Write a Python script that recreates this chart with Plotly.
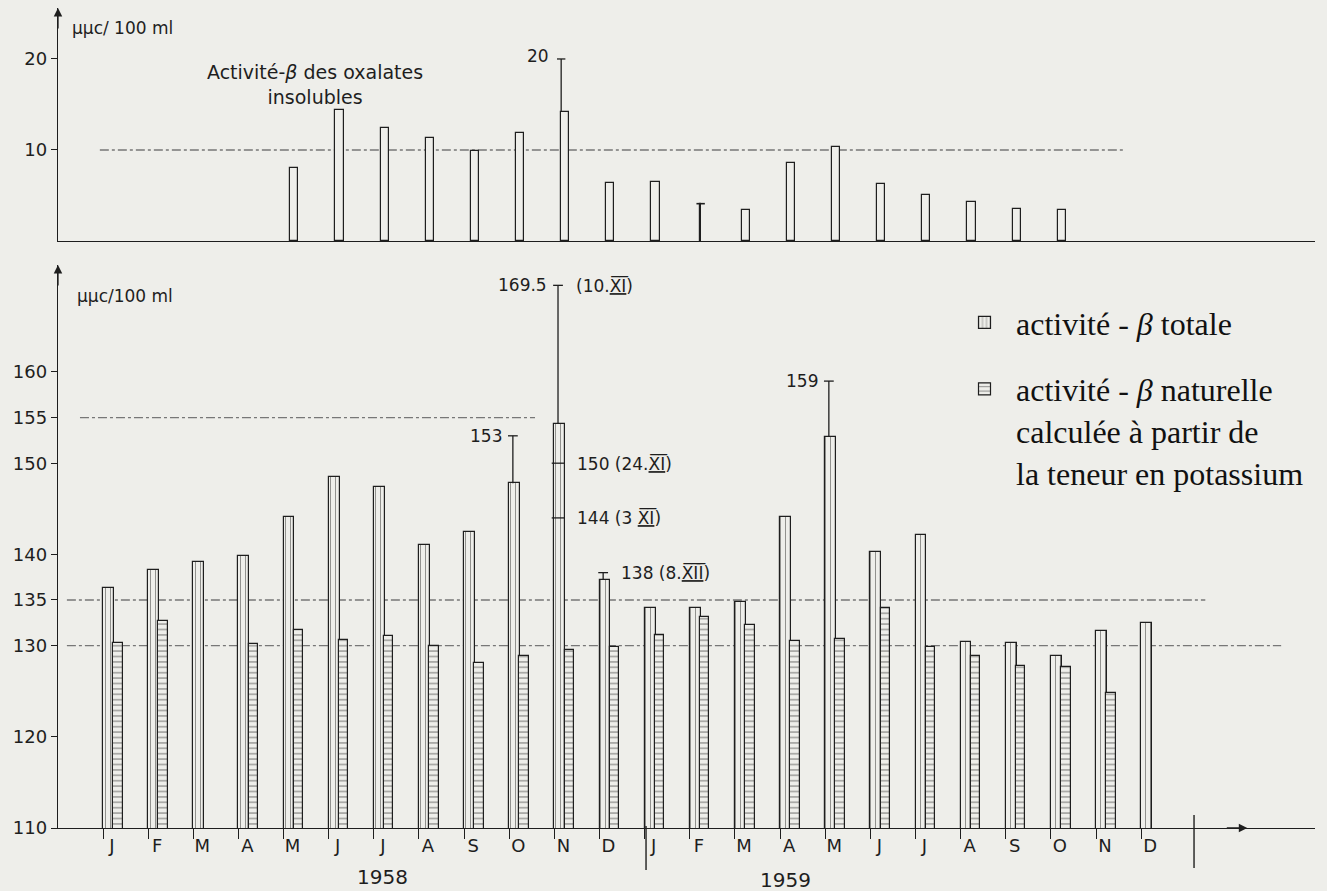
import plotly.graph_objects as go

W, H = 1327, 891
BG = "#eeeeea"
INK = "#1e1e1e"
HAND = "DejaVu Sans"

# ---------------- data ----------------
month_labels = ["J", "F", "M", "A", "M", "J", "J", "A", "S", "O", "N", "D",
                "J", "F", "M", "A", "M", "J", "J", "A", "S", "O", "N", "D"]
years = ["1958", "1959"]

# total beta activity (µµc/100 ml), monthly, 1958-1959
total = [136.3, 138.3, 139.2, 139.8, 144.1, 148.5, 147.4, 141.0, 142.5, 147.8, 154.3, 137.2,
         134.1, 134.1, 134.8, 144.1, 152.9, 140.3, 142.1, 130.4, 130.3, 128.9, 131.6, 132.5]
# natural beta activity computed from potassium content
natural = [130.3, 132.7, None, 130.2, 131.7, 130.6, 131.1, 130.0, 128.1, 128.9, 129.5, 129.9,
           131.2, 133.1, 132.3, 130.5, 130.7, 134.1, 129.8, 128.9, 127.8, 127.7, 124.8, None]
# beta activity of insoluble oxalates
oxalates = [None, None, None, None, 8.0, 14.4, 12.4, 11.3, 9.9, 11.9, 14.2, 6.4,
            6.5, 4.1, 3.4, 8.6, 10.3, 6.3, 5.1, 4.3, 3.5, 3.4, None, None]

# maxima (whiskers) for some months
whisk_month = [9, 10, 11, 16]
whisk_max = [153, 169.5, 138, 159]
whisk_text_left = ["153", "169.5", "", "159"]
whisk_text_right = ["", "(10.<u>X\u0305I\u0305</u>)", "138 (8.<u>X\u0305I\u0305I\u0305</u>)", ""]
# intermediate values in November 1958
nov_vals = [150, 144]
nov_text = ["150 (24.<u>X\u0305I\u0305</u>)", "144 (3 <u>X\u0305I\u0305</u>)"]
ox_whisk_month = [10]
ox_whisk_max = [20]

ref_bottom = [155, 135, 130]
ref_bottom_span = [(-0.51, 9.57), (-0.8, 24.42), (-0.8, 26.1)]
ref_top = [10]
ref_top_span = [(-0.07, 22.65)]

bottom_ticks = [110, 120, 130, 135, 140, 150, 155, 160]
top_ticks = [10, 20]

n = len(total)
idx = list(range(n))

X_RANGE = [-0.997, 26.85]
XDOM = [58 / W, 1315 / W]

fig = go.Figure()

# total activity bars
fig.add_trace(go.Bar(
    x=[i + 0.12 for i in idx], y=total, width=0.24,
    name="activité - <i>β</i> totale", legendgroup="tot",
    marker=dict(color=BG, line=dict(color=INK, width=1.2),
                pattern=dict(shape="|", size=5, solidity=0.18, fgcolor=INK, bgcolor=BG)),
    xaxis="x", yaxis="y", hoverinfo="skip"))

# natural activity bars
fig.add_trace(go.Bar(
    x=[i + 0.33 for i in idx], y=natural, width=0.21,
    name="activité - <i>β</i> naturelle<br>calculée à partir de<br>la teneur en potassium",
    legendgroup="nat",
    marker=dict(color=BG, line=dict(color=INK, width=1.2),
                pattern=dict(shape="-", size=5.4, solidity=0.22, fgcolor=INK, bgcolor=BG)),
    xaxis="x", yaxis="y", hoverinfo="skip"))

# whiskers (bottom)
wx, wy = [], []
for m, top in zip(whisk_month, whisk_max):
    wx += [m + 0.08, m + 0.08, None]
    wy += [total[m], top, None]
fig.add_trace(go.Scatter(x=wx, y=wy, mode="lines", line=dict(color=INK, width=1.3),
                         showlegend=False, hoverinfo="skip", xaxis="x", yaxis="y"))
fig.add_trace(go.Scatter(x=[m + 0.08 for m in whisk_month], y=whisk_max, mode="markers",
                         marker=dict(symbol="line-ew", size=7, line=dict(color=INK, width=1.3)),
                         showlegend=False, hoverinfo="skip", xaxis="x", yaxis="y"))
fig.add_trace(go.Scatter(x=[10 + 0.08] * len(nov_vals), y=nov_vals, mode="markers",
                         marker=dict(symbol="line-ew", size=9, line=dict(color=INK, width=1.3)),
                         showlegend=False, hoverinfo="skip", xaxis="x", yaxis="y"))

# oxalates bars (top)
ox_width = [0.03 if i == 13 else 0.18 for i in idx]
fig.add_trace(go.Bar(
    x=[i + 0.24 for i in idx], y=oxalates, width=ox_width,
    marker=dict(color=BG, line=dict(color=INK, width=1.2)),
    showlegend=False, xaxis="x2", yaxis="y2", hoverinfo="skip"))
fig.add_trace(go.Scatter(x=[13 + 0.24], y=[oxalates[13]], mode="markers",
                         marker=dict(symbol="line-ew", size=6, line=dict(color=INK, width=1.6)),
                         showlegend=False, hoverinfo="skip", xaxis="x2", yaxis="y2"))
ox_wx, ox_wy = [], []
for m, top in zip(ox_whisk_month, ox_whisk_max):
    ox_wx += [m + 0.15, m + 0.15, None]
    ox_wy += [oxalates[m], top, None]
fig.add_trace(go.Scatter(x=ox_wx, y=ox_wy, mode="lines", line=dict(color=INK, width=1.3),
                         showlegend=False, hoverinfo="skip", xaxis="x2", yaxis="y2"))
fig.add_trace(go.Scatter(x=[m + 0.15 for m in ox_whisk_month], y=ox_whisk_max, mode="markers",
                         marker=dict(symbol="line-ew", size=6, line=dict(color=INK, width=1.3)),
                         showlegend=False, hoverinfo="skip", xaxis="x2", yaxis="y2"))

# reference lines
shapes = []
for lv, (a, b) in zip(ref_bottom, ref_bottom_span):
    shapes.append(dict(type="line", xref="x", yref="y", x0=a, x1=b, y0=lv, y1=lv, layer="below",
                       line=dict(color="#777", width=1.3, dash="dashdot")))
for lv, (a, b) in zip(ref_top, ref_top_span):
    shapes.append(dict(type="line", xref="x2", yref="y2", x0=a, x1=b, y0=lv, y1=lv, layer="below",
                       line=dict(color="#777", width=1.3, dash="dashdot")))
# year separators
for xs, y0, y1 in [(12.03, 1 - 870 / H, 1 - 826 / H), (24.17, 1 - 868 / H, 1 - 815 / H)]:
    shapes.append(dict(type="line", xref="x", yref="paper", x0=xs, x1=xs, y0=y0, y1=y1,
                       line=dict(color=INK, width=1.4)))

hand = dict(family=HAND, size=17, color=INK)
ann = []
# whisker labels
for m, top, tl, tr in zip(whisk_month, whisk_max, whisk_text_left, whisk_text_right):
    if tl:
        ann.append(dict(x=m + 0.08, y=top, xref="x", yref="y", text=tl, showarrow=False,
                        xanchor="right", xshift=-9, font=hand))
    if tr:
        ann.append(dict(x=m + 0.08, y=top, xref="x", yref="y", text=tr, showarrow=False,
                        xanchor="left", xshift=16, font=hand))
for v, t in zip(nov_vals, nov_text):
    ann.append(dict(x=10 + 0.08, y=v, xref="x", yref="y", text=t, showarrow=False,
                    xanchor="left", xshift=17, font=hand))
for m, top in zip(ox_whisk_month, ox_whisk_max):
    ann.append(dict(x=m + 0.15, y=top, xref="x2", yref="y2", text=str(top), showarrow=False,
                    xanchor="right", xshift=-10, yshift=3, font=hand))
# titles
ann.append(dict(x=4.7, y=17.2, xref="x2", yref="y2",
                text="Activité-<i>β</i> des oxalates<br>insolubles", showarrow=False,
                font=dict(family=HAND, size=19, color=INK)))
ann.append(dict(x=70 / W, y=1 - 28 / H, xref="paper", yref="paper", text="μμc/ 100 ml",
                showarrow=False, xanchor="left", yanchor="middle",
                font=dict(family=HAND, size=17, color=INK)))
ann.append(dict(x=75 / W, y=1 - 296 / H, xref="paper", yref="paper", text="μμc/100 ml",
                showarrow=False, xanchor="left", yanchor="middle",
                font=dict(family=HAND, size=17, color=INK)))
# years
for yr, xc, yp in zip(years, [6.2, 15.13], [877, 880]):
    ann.append(dict(x=xc, y=1 - yp / H, xref="x", yref="paper", text=yr, showarrow=False,
                    yanchor="middle", font=dict(family=HAND, size=20, color=INK)))
# axis arrows
ann.append(dict(x=X_RANGE[0], y=171.73, xref="x", yref="y", ax=0, ay=22, text="", showarrow=True,
                arrowhead=2, arrowsize=1.3, arrowwidth=1.3, arrowcolor=INK))
ann.append(dict(x=X_RANGE[0], y=25.6, xref="x2", yref="y2", ax=0, ay=22, text="", showarrow=True,
                arrowhead=2, arrowsize=1.3, arrowwidth=1.3, arrowcolor=INK))
ann.append(dict(x=25.35, y=110, xref="x", yref="y", ax=-22, ay=0, text="", showarrow=True,
                arrowhead=2, arrowsize=1.3, arrowwidth=1.3, arrowcolor=INK))

axis_common = dict(showgrid=False, zeroline=False, showline=True, linecolor=INK, linewidth=1.4,
                   tickcolor=INK, tickwidth=1.3, tickfont=dict(family=HAND, size=18, color=INK))

fig.update_layout(
    width=W, height=H, autosize=False,
    margin=dict(l=0, r=0, t=0, b=0),
    paper_bgcolor=BG, plot_bgcolor=BG,
    barmode="overlay", bargap=0,
    xaxis=dict(domain=XDOM, range=X_RANGE, anchor="y", tickmode="array", tickvals=idx,
               ticktext=month_labels, ticks="outside", ticklen=10, ticklabelshift=9,
               ticklabelstandoff=-9, automargin=False, **axis_common),
    xaxis2=dict(domain=XDOM, range=X_RANGE, anchor="y2", showticklabels=False, ticks="",
                automargin=False, **axis_common),
    yaxis=dict(domain=[1 - 828 / H, 1 - 265 / H], range=[110, 171.73], anchor="x",
               tickmode="array", tickvals=bottom_ticks, ticks="outside", ticklen=6,
               automargin=False, **axis_common),
    yaxis2=dict(domain=[1 - 241 / H, 1 - 8 / H], range=[0, 25.6], anchor="x2",
                tickmode="array", tickvals=top_ticks, ticks="outside", ticklen=6,
                automargin=False, **axis_common),
    shapes=shapes, annotations=ann,
    showlegend=True,
    legend=dict(x=953 / W, y=1 - 295 / H, xanchor="left", yanchor="top",
                bgcolor="rgba(0,0,0,0)", valign="top", itemwidth=53,
                traceorder="grouped", tracegroupgap=22,
                font=dict(family="Liberation Serif", size=32, color="#111")),
)

fig.write_html("out.html")
